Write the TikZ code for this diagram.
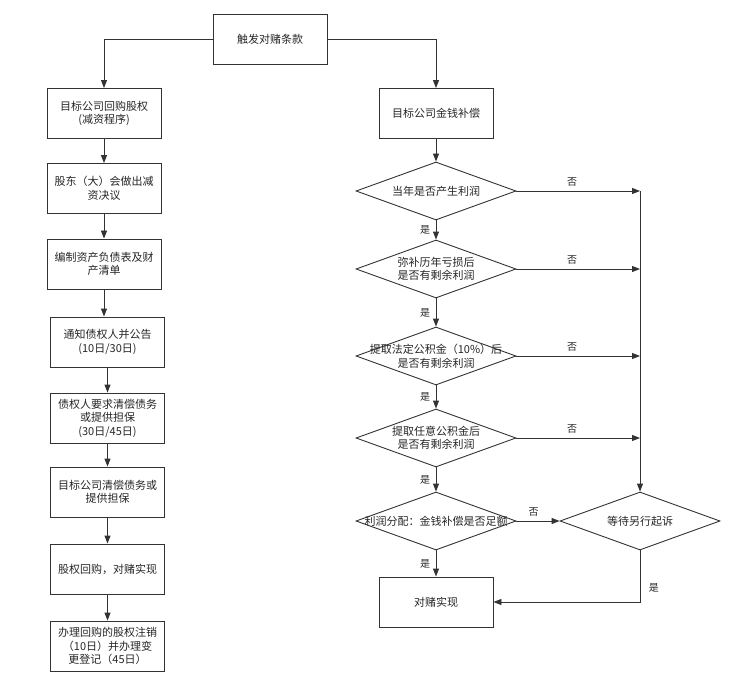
\documentclass[tikz,border=0pt]{standalone}
\usepackage{fontspec}
\usepackage{tikz}
\usetikzlibrary{arrows.meta, shapes.geometric}
\newfontfamily\cjk{Noto Sans CJK SC}
\definecolor{linec}{HTML}{333333}
\definecolor{txtc}{HTML}{262626}
\tikzset{
  box/.style={rectangle, draw=linec, line width=0.9pt, minimum width=114pt,
              minimum height=50pt, inner sep=2pt, align=center},
  dec/.style={diamond, draw=linec, line width=0.9pt, minimum width=160pt,
              minimum height=58pt, inner sep=0pt},
  arr/.style={draw=linec, line width=0.9pt, -{Triangle[length=8pt, width=6pt]}},
  lab/.style={font=\cjk\fontsize{10}{12}\selectfont, text=txtc}
}
\newcommand{\stepbox}[3]{%
  \node[box] (#1) at #2 {#3};
}
\newcommand{\decision}[3]{%
  \node[dec, label={[align=center]center:#3}] (#1) at #2 {};
}

\begin{document}
\begin{tikzpicture}[x=1pt, y=-1pt, text=txtc,
          font=\cjk\fontsize{11}{13.5}\selectfont]
        \useasboundingbox (0,0) rectangle (730,684);
        % trigger
        \stepbox{top}{(270,39)}{触发对赌条款}
        % left column: buy-back
        \stepbox{b1}{(104,113.5)}{目标公司回购股权\\(减资程序)}
        \stepbox{b2}{(104,188.5)}{股东（大）会做出减\\资决议}
        \stepbox{b3}{(104,264)}{编制资产负债表及财\\产清单}
        \stepbox{b4}{(107.5,342)}{通知债权人并公告\\(10日/30日)}
        \stepbox{b5}{(107.5,418)}{债权人要求清偿债务\\或提供担保\\(30日/45日)}
        \stepbox{b6}{(107.5,492)}{目标公司清偿债务或\\提供担保}
        \stepbox{b7}{(107.5,569)}{股权回购，对赌实现}
        \stepbox{b8}{(107.5,646)}{办理回购的股权注销\\（10日）并办理变\\更登记（45日）}
        % right column: compensation
        \stepbox{m0}{(436,113.5)}{目标公司金钱补偿}
        \decision{d1}{(436,191)}{当年是否产生利润}
        \decision{d2}{(436,269)}{弥补历年亏损后\\是否有剩余利润}
        \decision{d3}{(436,356)}{提取法定公积金（10\%）后\\是否有剩余利润}
        \decision{d4}{(436,438)}{提取任意公积金后\\是否有剩余利润}
        \decision{d5}{(436,521)}{利润分配：金钱补偿是否足额}
        \decision{d6}{(640,521)}{等待另行起诉}
        \stepbox{win}{(436,602)}{对赌实现}
        \foreach \i in {1,...,4} \coordinate (r\i) at (d\i.east -| d6.north);

        \draw[arr] (top.west) -| (b1.north);
        \draw[arr] (top.east) -| (m0.north);
        \foreach \i/\j in {1/2,2/3,3/4,4/5,5/6,6/7,7/8}
          \draw[arr] (b\i.south) -- (b\i.south |- b\j.north);
        \draw[arr] (m0) -- (d1);
        \foreach \i/\j in {1/2,2/3,3/4,4/5}
          \draw[arr] (d\i) -- node[lab, left, xshift=-2pt] {是} (d\j);
        \draw[arr] (d5) -- node[lab, left, xshift=-2pt] {是} (win);
        \foreach \i in {1,...,4}
          \draw[arr] (d\i.east) -- node[lab, above, pos=0.45, yshift=1pt] {否} (r\i);
        \draw[arr] (r1) -- (d6.north);
        \draw[arr] (d5.east) -- node[lab, above, pos=0.4, yshift=1pt] {否} (d6.west);
        \draw[arr] (d6.south) |- node[lab, right, pos=0.36, xshift=5pt] {是} (win.east);
      \end{tikzpicture}
\end{document}
